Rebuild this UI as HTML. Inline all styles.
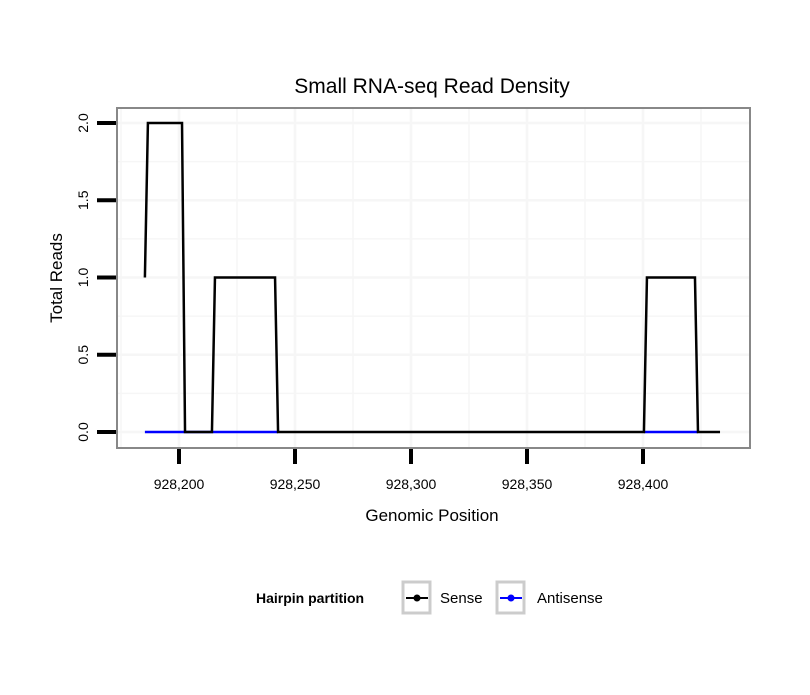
<!DOCTYPE html>
<html><head><meta charset="utf-8"><style>
body{margin:0;background:#fff}
svg text{font-family:"Liberation Sans",sans-serif}
</style></head><body>
<svg width="810" height="690" xmlns="http://www.w3.org/2000/svg">
<rect width="810" height="690" fill="#fff"/>
<text x="432" y="93" font-size="21" text-anchor="middle">Small RNA-seq Read Density</text>
<g id="grid"></g>
<g id="series"></g>
<rect x="117" y="108" width="633" height="340" fill="none" stroke="#888" stroke-width="2"/>
<g id="axes"></g>
<text x="432" y="521" font-size="17" text-anchor="middle">Genomic Position</text>
<text transform="translate(62,278) rotate(-90)" font-size="17" text-anchor="middle">Total Reads</text>
<g>
<text x="256" y="603" font-size="14" font-weight="bold">Hairpin partition</text>
<g>
<rect x="403" y="582" width="27" height="31" fill="#fff" stroke="#ccc" stroke-width="3"/>
<line x1="406" y1="598" x2="428" y2="598" stroke="#000" stroke-width="2"/><circle cx="417" cy="598" r="3.5" fill="#000"/>
<text x="440" y="603" font-size="15">Sense</text></g>
<g>
<rect x="497" y="582" width="27" height="31" fill="#fff" stroke="#ccc" stroke-width="3"/>
<line x1="500" y1="598" x2="522" y2="598" stroke="#00f" stroke-width="2"/><circle cx="511" cy="598" r="3.5" fill="#00f"/>
<text x="537" y="603" font-size="15">Antisense</text></g>
</g>
</svg>
<script>
const senseX=[185.3,186.6,201.3,202.6,214.2,215.5,241.4,242.7,400.4,401.7,422.4,423.7,433.2];
const senseY=[1,2,2,0,0,1,1,0,0,1,1,0,0];
const antiX1=[185.3,242.7];
const antiX2=[400.4,423.7];
const antiY=[0,0];
const xTicks=[928200,928250,928300,928350,928400];
const xTickLabels=["928,200","928,250","928,300","928,350","928,400"];
const yTicks=[0,0.5,1,1.5,2];
const yTickLabels=["0.0","0.5","1.0","1.5","2.0"];
const X0=928000;
const sx=v=>179+(v-928200)*2.32;
const sy=v=>432-v*154.5;
const NS="http://www.w3.org/2000/svg";
function mk(t,a,p){const e=document.createElementNS(NS,t);for(const k in a)e.setAttribute(k,a[k]);p.appendChild(e);return e;}
const grid=document.getElementById('grid'),ser=document.getElementById('series'),ax=document.getElementById('axes');
for(let v=928175;v<=928425;v+=25){const l=mk('line',{x1:sx(v),x2:sx(v),y1:109,y2:447,stroke:'#f6f6f6','stroke-width':v%50==0?2.5:1.5},grid);

}
for(let v=-0.25;v<=2.25;v+=0.25){const y=sy(v);if(y<109||y>447)continue;const l=mk('line',{x1:118,x2:749,y1:y,y2:y,stroke:'#f6f6f6','stroke-width':(v*2)%1==0?2.5:1.5},grid);

}
function line(xs,ys,c,name){const p=mk('polyline',{points:xs.map((x,i)=>sx(X0+x)+','+sy(ys[i])).join(' '),fill:'none',stroke:c,'stroke-width':2.5},ser);

}
line(antiX1,antiY,'#00f','antisense-line-1');
line(antiX2,antiY,'#00f','antisense-line-2');
line(senseX,senseY,'#000','sense-line');
xTicks.forEach((v,i)=>{const l=mk('line',{x1:sx(v),x2:sx(v),y1:449,y2:464,stroke:'#000','stroke-width':4},ax);


const t=mk('text',{x:sx(v),y:489,'font-size':14,'text-anchor':'middle'},ax);t.textContent=xTickLabels[i];

});
yTicks.forEach((v,i)=>{const l=mk('line',{x1:97,x2:116,y1:sy(v),y2:sy(v),stroke:'#000','stroke-width':4},ax);


const t=mk('text',{transform:`translate(88,${sy(v)}) rotate(-90)`,'font-size':14,'text-anchor':'middle'},ax);t.textContent=yTickLabels[i];

});
</script>
</body></html>
